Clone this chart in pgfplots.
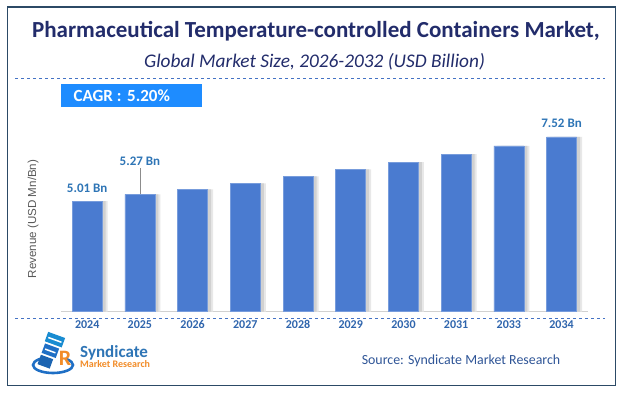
\documentclass[border=0pt]{standalone}
\usepackage{fontspec}
\setmainfont{Carlito}
\newfontfamily\labfont{Liberation Sans}
\usepackage{pgfplots}
\usepackage{pgfplotstable}
\pgfplotsset{compat=1.18}
\definecolor{navy}{HTML}{222C6B}
\definecolor{dashblue}{HTML}{4472C4}
\definecolor{cagrblue}{HTML}{1E8CFF}
\definecolor{barblue}{HTML}{4A7BD0}
\definecolor{tickblue}{HTML}{2F65AD}
\definecolor{lblblue}{HTML}{2E75B6}
\definecolor{framecol}{HTML}{2C4A66}
\definecolor{logoblue}{HTML}{1F6FC5}
\definecolor{logoorange}{HTML}{F28C28}
\definecolor{srccol}{HTML}{2F5597}
\pgfplotstableread{
x y lab off
0 5.01 {5.01 Bn} 9
1 5.27 {5.27 Bn} 29
2 5.47 {} 0
3 5.70 {} 0
4 5.98 {} 0
5 6.25 {} 0
6 6.53 {} 0
7 6.85 {} 0
8 7.17 {} 0
9 7.52 {7.52 Bn} 9
}\datatable
\begin{document}
\begin{tikzpicture}[x=1pt,y=1pt]
\fill[white] (0,0) rectangle (623,393);
\draw[framecol, line width=1.3pt] (7.5,7.5) rectangle (615.5,386);
% titles
\node[anchor=base, text=navy, font=\bfseries\fontsize{23}{26}\selectfont] at (316,355.3) {Pharmaceutical Temperature-controlled Containers Market,};
\node[anchor=base, text=navy, font=\itshape\fontsize{19.3}{22}\selectfont] at (314.5,325.5) {Global Market Size, 2026-2032 (USD Billion)};
\draw[dashblue, dashed, line width=0.8pt] (15,315) -- (605,315);
\fill[cagrblue] (61,285.7) rectangle (201.7,309);
\node[anchor=west, text=white, font=\bfseries\fontsize{17}{20}\selectfont] at (70,297.3) {CAGR :\,\,5.20\%};
% y label
\node[rotate=90, text=black!65, font=\labfont\fontsize{11.6}{13}\selectfont] at (33,174) {Revenue (USD Mn/Bn)};
% axis
\begin{axis}[at={(60.85pt,81.3pt)}, anchor=south west, width=527.05pt, height=190pt, scale only axis,
  xmin=-0.5, xmax=9.5, ymin=0.67, ymax=8.12, axis y line=none, axis x line*=bottom,
  x axis line style={draw=black!18, line width=1pt, -},
  xtick={0,...,9}, xticklabels={2024,2025,2026,2027,2028,2029,2030,2031,2033,2034},
  major tick length=0pt, tick style={draw=none},
  xticklabel style={font=\bfseries\fontsize{12}{14}\selectfont, text=tickblue, yshift=-5pt},
  ybar, bar width=30pt, clip=false, enlargelimits=false]
\addplot[fill=black!9, draw=none, bar shift=6.5pt, bar width=28pt, forget plot] table[x=x,y=y]{\datatable};
\addplot[fill=black!18, draw=none, bar shift=3.5pt, bar width=30pt, forget plot] table[x=x,y=y]{\datatable};
\addplot[fill=barblue, draw=barblue!75!white, line width=0.5pt, bar shift=0pt,
  point meta=explicit symbolic, nodes near coords,
  visualization depends on={\thisrow{off} \as \myoff},
  every node near coord/.style={anchor=base, inner sep=0pt, yshift=\myoff pt,
    font=\bfseries\fontsize{13}{15}\selectfont, text=lblblue}]
  table[x=x,y=y,meta=lab]{\datatable};
\draw[black!45, line width=0.6pt] (axis cs:1,5.27) -- ++(0pt,26pt);
\end{axis}
\draw[dashblue, dashed, line width=0.8pt] (15,75) -- (605,75);
% logo
\draw[logoblue, line width=2.6pt] (53,28) ellipse [x radius=20pt, y radius=8pt];
\fill[white] (40,30) rectangle (66,52);
\begin{scope}[rotate around={-20:(54,42)}]
\fill[logoblue!80!cyan] (42,48) rectangle (60,58);
\fill[white] (44,52) rectangle (58,53.5);
\fill[logoblue] (43,36) rectangle (58,46);
\fill[white] (45,40) rectangle (56,41.5);
\fill[logoblue!90!black] (43,24) rectangle (56,34);
\end{scope}
\node[text=logoorange, font=\bfseries\fontsize{22}{24}\selectfont] at (65,35) {R};
\node[anchor=west, text=lblblue, font=\bfseries\fontsize{17}{19}\selectfont, inner sep=0pt] at (80,40.3) {Syndicate};
\node[anchor=west, text=logoorange, font=\bfseries\fontsize{10}{12}\selectfont, inner sep=0pt] at (80,28.7) {Market Research};
\node[text=srccol, font=\fontsize{13.9}{16}\selectfont] at (461,32) {Source: Syndicate Market Research};
\end{tikzpicture}
\end{document}
